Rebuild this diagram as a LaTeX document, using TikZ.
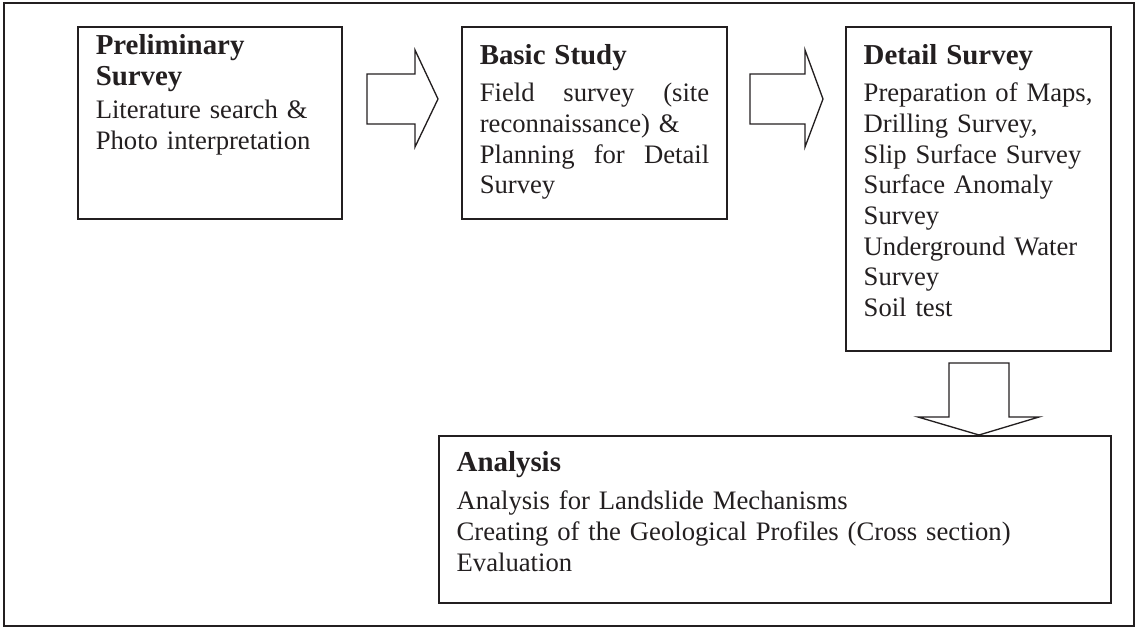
\documentclass[tikz,border=0pt]{standalone}
\usepackage{fontspec}
\setmainfont{Liberation Serif}
\usetikzlibrary{positioning}
\definecolor{inkgray}{HTML}{231F20}
\newcommand{\hd}{\fontsize{13}{15}\selectfont\bfseries}
\newcommand{\bd}{\fontsize{12}{13.8}\selectfont}

\begin{document}
\begin{tikzpicture}[x=0.45pt,y=-0.45pt,
  stage/.style={draw=inkgray,line width=0.9pt,anchor=north west,inner xsep=8pt,inner ysep=0pt,
    outer sep=0pt,align=left,text=inkgray,font=\bd},
  blockarrow/.style={draw=inkgray,line width=0.6pt,line join=miter}]
   \useasboundingbox (0,0) rectangle (1137,628);
   \draw[inkgray,line width=0.9pt] (4,3) rectangle (1134,626);
   % survey stages
   \node[stage,text width=102.8pt,text height=12.6pt,text depth=73.8pt] (pre) at (78,27)
     {{\hd Preliminary\\ Survey}\\[1pt] Literature search \&\\ Photo interpretation};
   \node[stage,text width=103.25pt,text height=17.1pt,text depth=69.3pt] (bas) [right=54pt of pre]
     {{\hd Basic Study}\\[2.85pt] Field\hfill survey\hfill (site\\ reconnaissance) \&\\
      Planning\hfill for\hfill Detail\\ Survey};
   \node[stage,text width=103.25pt,text height=17.1pt,text depth=128.7pt] (det)
     [right=53.5pt of bas.north east,anchor=north west]
     {{\hd Detail Survey}\\[2.85pt] Preparation of Maps,\\ Drilling Survey,\\ Slip Surface Survey\\
      Surface Anomaly\\ Survey\\ Underground Water\\ Survey\\ Soil test};
   \node[stage,text width=286.4pt,text height=16.2pt,text depth=58.95pt] (ana)
     [below=38.25pt of det.south east,anchor=north east]
     {{\hd Analysis}\\[3.3pt] Analysis for Landslide Mechanisms\\
      Creating of the Geological Profiles (Cross section)\\ Evaluation};
   % block arrows
   \draw[blockarrow] (367,74) -- (415,74) -- (415,50) -- (438,99) -- (415,147) -- (415,124) -- (367,124) -- cycle;
   \draw[blockarrow] (750,74) -- (805,74) -- (805,50) -- (823,99) -- (805,147) -- (805,124) -- (750,124) -- cycle;
   \draw[blockarrow] (949,363) -- (1009,363) -- (1009,417) -- (1039,417) -- (979,435) -- (918,417) -- (949,417) -- cycle;
\end{tikzpicture}
\end{document}
